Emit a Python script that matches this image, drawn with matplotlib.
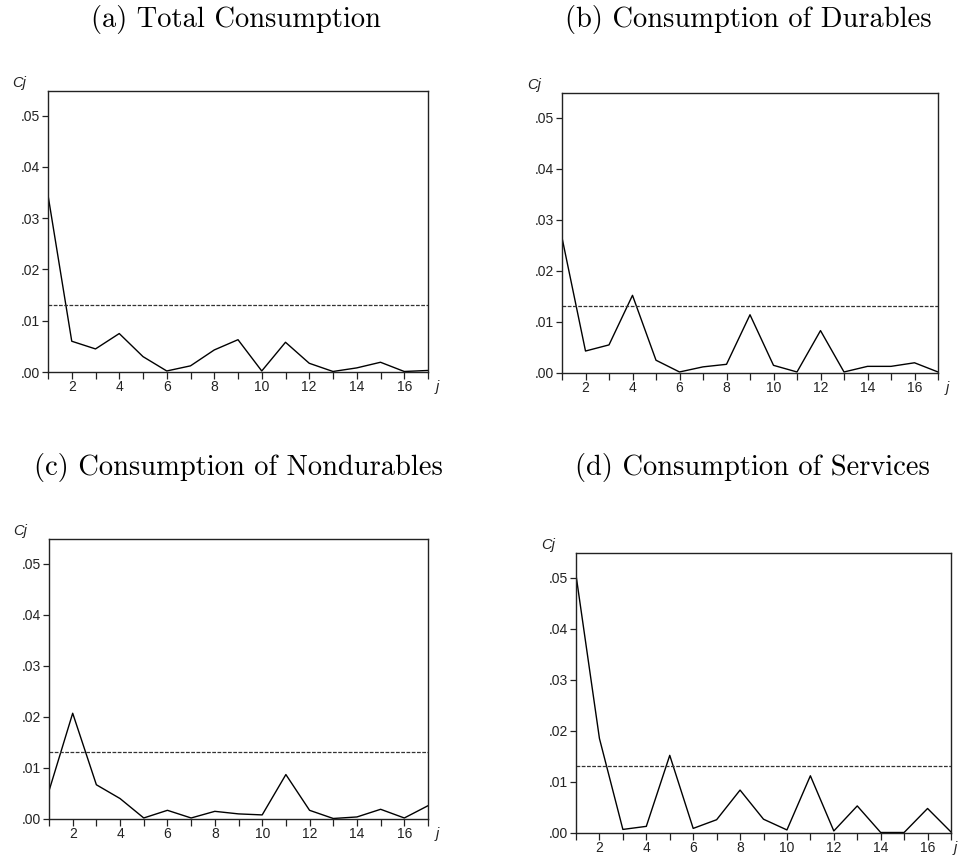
import matplotlib
matplotlib.use("Agg")
import matplotlib.pyplot as plt

lags = list(range(1, 18))

total = [0.0345, 0.0060, 0.0045, 0.0075, 0.0030, 0.0002, 0.0012, 0.0043, 0.0063,
         0.0002, 0.0058, 0.0017, 0.0001, 0.0008, 0.0019, 0.0001, 0.0003]
durables = [0.0265, 0.0043, 0.0055, 0.0152, 0.0025, 0.0002, 0.0012, 0.0017, 0.0114,
            0.0015, 0.0002, 0.0083, 0.0002, 0.0013, 0.0013, 0.0020, 0.0002]
nondurables = [0.0055, 0.0207, 0.0067, 0.0040, 0.0002, 0.0017, 0.0002, 0.0015, 0.0010,
               0.0008, 0.0087, 0.0017, 0.0001, 0.0004, 0.0019, 0.0002, 0.0026]
services = [0.0505, 0.0185, 0.0007, 0.0013, 0.0152, 0.0009, 0.0026, 0.0084, 0.0027,
            0.0006, 0.0112, 0.0004, 0.0053, 0.0001, 0.0001, 0.0048, 0.0002]
critical = 0.0131

titles = ["(a) Total Consumption", "(b) Consumption of Durables",
          "(c) Consumption of Nondurables", "(d) Consumption of Services"]
yticks = [0, 0.01, 0.02, 0.03, 0.04, 0.05]
yticklabels = [".00", ".01", ".02", ".03", ".04", ".05"]
series = [total, durables, nondurables, services]

W, H = 961, 858
# axes boxes in pixels: left, top, right, bottom
boxes = [(48, 91, 428, 372), (562, 93, 938, 373),
         (49, 539, 428, 819), (576, 553, 951, 833)]
title_pos = [(236, 20), (748, 20), (238, 467), (752, 468)]
jlabel_x = [1.025, 1.025, 1.025, 1.012]

fig = plt.figure(figsize=(W / 100, H / 100), dpi=100)

for k, (vals, title) in enumerate(zip(series, titles)):
    l, t, r, b = boxes[k]
    tx, ty = title_pos[k]
    ax = fig.add_axes([l / W, 1 - b / H, (r - l) / W, (b - t) / H])
    ax.plot(lags, vals, color="black", lw=1.0)
    ax.axhline(critical, color="#333333", lw=0.9, ls=(0, (3, 1.2)))
    ax.set_xlim(1, 17)
    ax.set_ylim(0, 0.0548)
    ax.set_xticks(lags)
    ax.set_xticklabels([str(v) if v % 2 == 0 else "" for v in lags])
    ax.set_yticks(yticks)
    ax.set_yticklabels(yticklabels)
    ax.tick_params(axis="both", direction="out", labelsize=10, color="#222222",
                   width=0.9, length=4, pad=2)
    ax.tick_params(axis="x", length=5, pad=1)
    for lab in ax.get_xticklabels() + ax.get_yticklabels():
        lab.set_fontfamily("Liberation Sans")
        lab.set_color("#222222")
    for sp in ax.spines.values():
        sp.set_linewidth(1.0)
        sp.set_color("#222222")
    ax.text(-0.075, 1.005, "Cj", transform=ax.transAxes, fontsize=10.5, style="italic",
            fontfamily="Liberation Sans", ha="center", va="bottom", color="#222222")
    ax.text(jlabel_x[k], -0.055, "j", transform=ax.transAxes, fontsize=10.5,
            style="italic", fontfamily="Liberation Sans", ha="center", va="center",
            color="#222222")
    fig.text(tx / W, 1 - ty / H, title, fontsize=20.5, fontfamily="cmr10",
             ha="center", va="center")

fig.savefig("out.png", dpi=100)
